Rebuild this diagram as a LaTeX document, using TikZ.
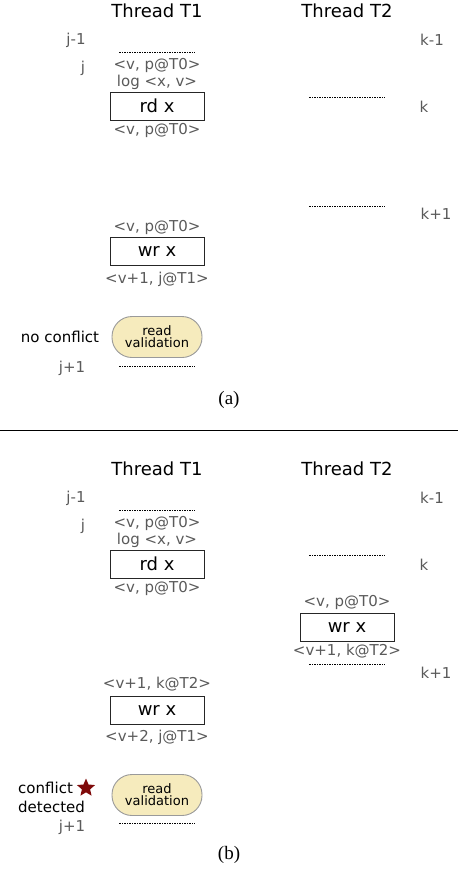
\documentclass[tikz,border=0pt]{standalone}
\usepackage{fontspec}
\setmainfont{DejaVu Sans}
\newfontfamily\capfont{Liberation Serif}
\usetikzlibrary{shapes.geometric}
\definecolor{labelgray}{HTML}{5A5A5A}
\definecolor{validfill}{HTML}{F6EBBD}
\definecolor{validline}{HTML}{9A9A9A}
\definecolor{starred}{HTML}{7F0A0A}
\begin{document}
\begin{tikzpicture}[x=1pt, y=-1pt]
    % --- 样式设置 ---
    \tikzstyle{title}=[font=\fontsize{18}{20}\selectfont]
    \tikzstyle{ann}=[text=labelgray, font=\fontsize{15}{17}\selectfont, inner sep=0pt]
    \tikzstyle{note}=[font=\fontsize{15}{19}\selectfont, inner sep=0pt]
    \tikzstyle{op}=[draw=black!85, line width=0.9pt, minimum width=94pt, minimum height=28pt, inner sep=0pt, font=\fontsize{18}{20}\selectfont]
    \tikzstyle{valid}=[draw=validline, fill=validfill, line width=0.9pt, rounded corners=20pt, minimum width=90pt, minimum height=41pt, inner sep=0pt, align=center, font=\fontsize{13}{14}\selectfont]
    \tikzstyle{sep}=[line width=1pt, dash pattern=on 2pt off 1pt on 1pt off 1pt]
    \tikzstyle{caption}=[font=\capfont\fontsize{19}{21}\selectfont]

    \useasboundingbox (0,0) rectangle (458,871);

    % 1. 子图 (a): 标题
    \node[title] (a-t1) at (157,11) {Thread T1};
    \node[title] (a-t2) at (347,11) {Thread T2};
    \node[ann] (a-jm) at (76,40) {j-1};
    \node[ann] (a-km) at (432,40) {k-1};

    % 2. 子图 (a): T1 读 x
    \draw[sep] (119,52) -- (195,52);
    \node[ann] (a-j) at (83,68) {j};
    \node[ann] (a-v1) at (157,65) {<v, p@T0>};
    \node[ann] (a-log) at (157,82) {log <x, v>};
    \node[op] (a-rd) at (157,106) {rd x};
    \node[ann] (a-v2) at (157,130) {<v, p@T0>};

    % 3. 子图 (a): T2 分隔线
    \draw[sep] (309,97) -- (385,97);
    \node[ann] (a-k) at (424,107) {k};
    \draw[sep] (309,206) -- (385,206);
    \node[ann] (a-kp) at (436,214) {k+1};

    % 4. 子图 (a): T1 写 x 和读验证
    \node[ann] (a-v3) at (157,227) {<v, p@T0>};
    \node[op] (a-wr) at (157,251.5) {wr x};
    \node[ann] (a-v4) at (157,279) {<v+1, j@T1>};
    \node[note] (a-nc) at (60,337) {no conflict};
    \node[valid] (a-val) at (157,337) {read\\[-2pt]validation};
    \node[ann] (a-jp) at (72,368) {j+1};
    \draw[sep] (119,366) -- (195,366);
    \node[caption] (a-cap) at (229,400) {(a)};

    % 5. 分隔
    \draw[line width=0.8pt] (0,430) -- (458,430);

    % 6. 子图 (b): 标题
    \node[title] (b-t1) at (157,469) {Thread T1};
    \node[title] (b-t2) at (347,469) {Thread T2};
    \node[ann] (b-jm) at (76,498) {j-1};
    \node[ann] (b-km) at (432,498) {k-1};

    % 7. 子图 (b): T1 读 x
    \draw[sep] (119,510) -- (195,510);
    \node[ann] (b-j) at (83,526) {j};
    \node[ann] (b-v1) at (157,523) {<v, p@T0>};
    \node[ann] (b-log) at (157,540) {log <x, v>};
    \node[op] (b-rd) at (157,564) {rd x};
    \node[ann] (b-v2) at (157,588) {<v, p@T0>};

    % 8. 子图 (b): T2 写 x
    \draw[sep] (309,555) -- (385,555);
    \node[ann] (b-k) at (424,565) {k};
    \node[ann] (b-w1) at (347,602) {<v, p@T0>};
    \node[op] (b-wr2) at (347,627) {wr x};
    \node[ann] (b-w2) at (347,651) {<v+1, k@T2>};
    \draw[sep] (309,664) -- (385,664);
    \node[ann] (b-kp) at (436,673) {k+1};

    % 9. 子图 (b): T1 写 x 和读验证 (冲突)
    \node[ann] (b-v3) at (157,684) {<v+1, k@T2>};
    \node[op] (b-wr1) at (157,710) {wr x};
    \node[ann] (b-v4) at (157,737) {<v+2, j@T1>};
    \node[note, anchor=west, align=left] (b-cd) at (18,797.5) {conflict\\detected};
    \node[star, star points=5, star point ratio=2.2, fill=starred, minimum size=19pt, inner sep=0pt] (b-star) at (86,788) {};
    \node[valid] (b-val) at (157,795) {read\\[-2pt]validation};
    \node[ann] (b-jp) at (72,827) {j+1};
    \draw[sep] (119,823) -- (195,823);
    \node[caption] (b-cap) at (229,855) {(b)};

\end{tikzpicture}
\end{document}
